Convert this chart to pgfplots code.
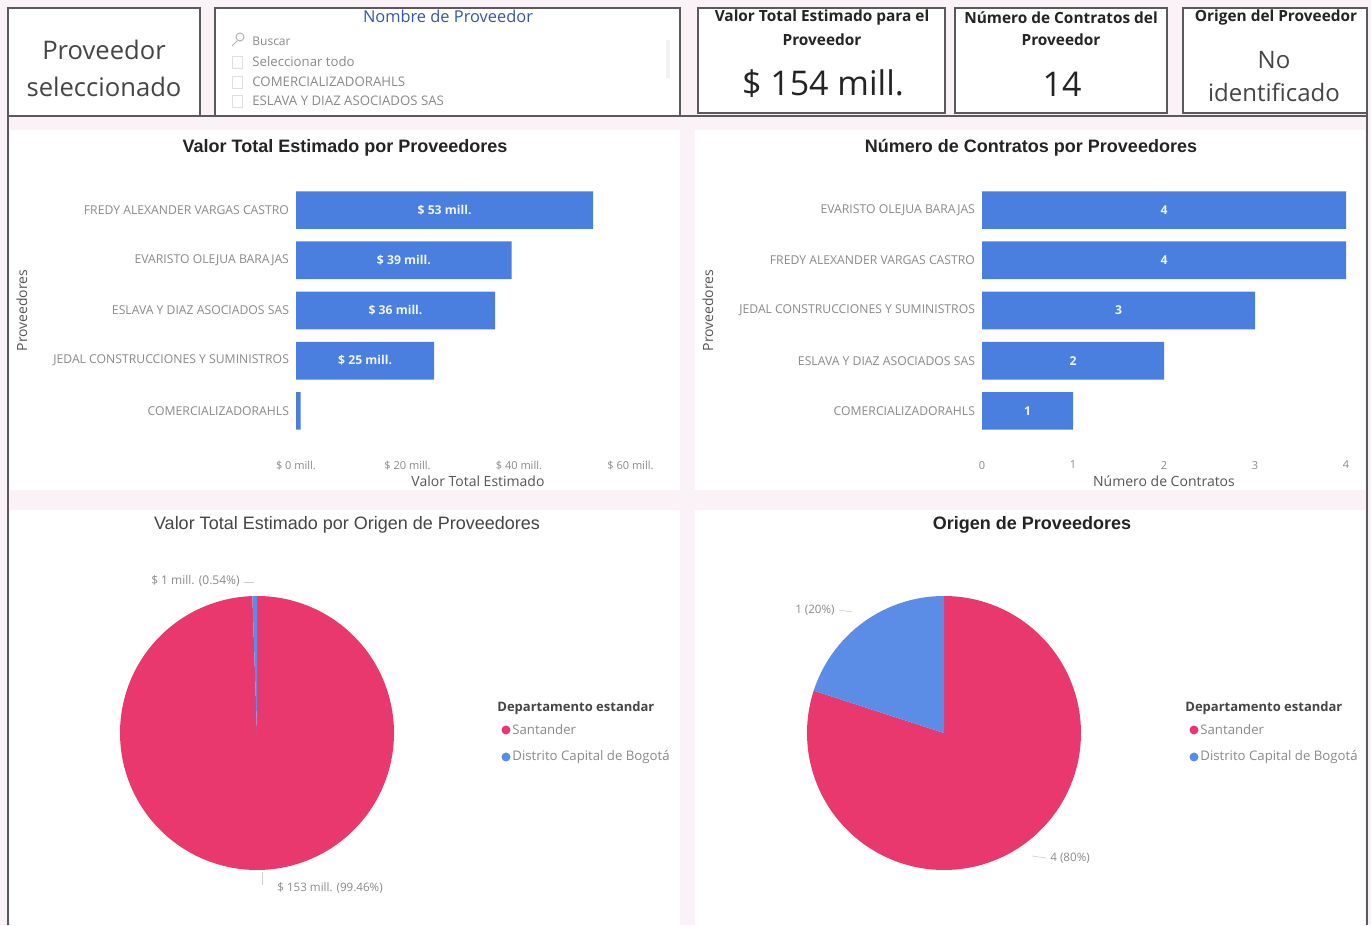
\documentclass[border=0pt]{standalone}
\usepackage{fontspec}
\setmainfont{Open Sans}
\newfontfamily\arial{Liberation Sans}
\usepackage{pgfplots}
\pgfplotsset{compat=1.18}
\usepgfplotslibrary{polar}
\definecolor{bg}{HTML}{FBF2F7}
\definecolor{barblue}{HTML}{4A7FE0}
\definecolor{piepink}{HTML}{E8386E}
\definecolor{pieblue}{HTML}{5B8DE6}
\definecolor{tickc}{HTML}{8A8A8A}
\definecolor{labc}{HTML}{555555}
\definecolor{dark}{HTML}{252423}
\definecolor{framec}{HTML}{5A5A5A}
\definecolor{slicerblue}{HTML}{3556A8}
\newcommand\fs[1]{\fontsize{#1pt}{#1pt}\selectfont}
\pgfplotsset{barstyle/.style={
  xbar, scale only axis, width=182pt, height=125.5pt,
  ymin=-0.5, ymax=4.5, y dir=reverse, ytick={0,1,2,3,4},
  axis line style={draw=none}, major tick length=0pt,
  bar width=0.75,
  tick label style={font=\fs{5.5}, text=tickc},
  yticklabel style={font=\fs{6.1}},
  xticklabel style={yshift=-9pt},
  label style={font=\fs{7}, text=labc},
  xlabel style={at={(axis description cs:0.5,-0.179)}, anchor=center},
  ylabel style={at={(axis description cs:-0.753,0.5)}, anchor=center},
  nodes near coords, point meta=explicit symbolic,
  visualization depends on={rawx \as \rawx},
  every node near coord/.append style={font=\bfseries\fs{6.1}, text=white!92!barblue, anchor=center, shift={(axis direction cs:-\rawx/2,0)}},
  clip=false,
}}
\begin{document}
\begin{tikzpicture}
\begin{scope}[shift={(0pt,462.5pt)}, x=0.5pt, y=-0.5pt]
% background
\fill[bg] (0,0) rectangle (1371,925);
\fill[white] (10,130) rectangle (680,490);
\fill[white] (695,130) rectangle (1365,490);
\fill[white] (10,510) rectangle (680,925);
\fill[white] (695,510) rectangle (1365,925);
% frame
\draw[framec, line width=0.8pt] (8,116) -- (1367,116);
\draw[framec, line width=0.8pt] (8,8) -- (8,925);
\draw[framec, line width=0.8pt] (1367,8) -- (1367,925);
% cards
\draw[framec, line width=0.7pt, fill=white] (8,8) rectangle (200,116);
\draw[framec, line width=0.7pt, fill=white] (215,8) rectangle (680,116);
\draw[framec, line width=0.7pt, fill=white] (698,8) rectangle (945,113);
\draw[framec, line width=0.7pt, fill=white] (955,8) rectangle (1167,113);
\draw[framec, line width=0.7pt, fill=white] (1183,8) rectangle (1367,113);
% card 1
\node[text=dark!85, font=\fs{12.8}] at (104,50) {Proveedor};
\node[text=dark!85, font=\fs{12.8}] at (104,87) {seleccionado};
% slicer
\node[text=slicerblue, font=\fs{8.2}] at (448,16) {Nombre de Proveedor};
\draw[gray!60, line width=0.5pt] (240,37) circle[radius=4] (237,41) -- (232,46);
\node[anchor=west, text=tickc, font=\fs{6}, inner sep=0pt] at (252,41) {Buscar};
\foreach \yy/\tt in {62/Seleccionar todo, 82/COMERCIALIZADORAHLS, 101/ESLAVA Y DIAZ ASOCIADOS SAS}{
  \draw[gray!25, line width=0.4pt] (232,\yy-6) rectangle (242,\yy+6);
  \node[anchor=west, text=tickc, font=\fs{6.6}, inner sep=0pt] at (252,\yy) {\tt};
}
\fill[gray!10] (666,40) rectangle (670,78);
% card 3
\node[text=dark, font=\bfseries\fs{7.7}] at (822,18) {Valor Total Estimado para el};
\node[text=dark, font=\bfseries\fs{7.7}] at (822,40) {Proveedor};
\node[text=dark, font=\fs{17}] at (823,84) {\$ 154 mill.};
% card 4
\node[text=dark, font=\bfseries\fs{7.7}] at (1061,18) {Número de Contratos del};
\node[text=dark, font=\bfseries\fs{7.7}] at (1061,40) {Proveedor};
\node[text=dark, font=\fs{17}] at (1062,84) {14};
% card 5
\node[text=dark, font=\bfseries\fs{7.7}] at (1276,18) {Origen del Proveedor};
\node[text=dark!85, font=\fs{12}] at (1274,60) {No};
\node[text=dark!85, font=\fs{12}] at (1274,92) {identificado};
% chart titles
\node[text=dark, font=\arial\bfseries\fs{9}] at (345,148) {Valor Total Estimado por Proveedores};
\node[text=dark, font=\arial\bfseries\fs{9}] at (1031,148) {Número de Contratos por Proveedores};
\node[text=dark!85, font=\arial\fs{9}] at (347,525) {Valor Total Estimado por Origen de Proveedores};
\node[text=dark, font=\arial\bfseries\fs{9}] at (1032,525) {Origen de Proveedores};
% pie labels
\node[anchor=east, text=tickc, font=\fs{6}, inner sep=0pt] at (240,581) {\$ 1 mill. (0.54\%)};
\draw[gray!40, line width=0.3pt] (244,582) -- (254,582);
\node[anchor=west, text=tickc, font=\fs{5.8}, inner sep=0pt] at (277,888) {\$ 153 mill. (99.46\%)};
\draw[gray!40, line width=0.3pt] (262,872) -- (262,885);
\node[anchor=east, text=tickc, font=\fs{5.8}, inner sep=0pt] at (835,610) {1 (20\%)};
\draw[gray!40, line width=0.3pt] (839,610) -- (852,612);
\node[anchor=west, text=tickc, font=\fs{5.8}, inner sep=0pt] at (1050,858) {4 (80\%)};
\draw[gray!40, line width=0.3pt] (1032,856) -- (1046,858);
% legends
\foreach \lx in {497,1185}{
  \node[anchor=west, text=dark!85, font=\bfseries\fs{6.5}, inner sep=0pt] at (\lx,708) {Departamento estandar};
  \fill[piepink] (\lx+9,730) circle[radius=4.5];
  \node[anchor=west, text=tickc, font=\fs{6.6}, inner sep=0pt] at (\lx+15,730) {Santander};
  \fill[pieblue] (\lx+9,757) circle[radius=4.5];
  \node[anchor=west, text=tickc, font=\fs{6.6}, inner sep=0pt] at (\lx+15,757) {Distrito Capital de Bogotá};
}
\end{scope}

% left bar chart
\begin{axis}[barstyle, at={(148pt,244.5pt)}, anchor=south west,
  xmin=0, xmax=65.3, xtick={0,20,40,60},
  xticklabels={\$ 0 mill., \$ 20 mill., \$ 40 mill., \$ 60 mill.},
  yticklabels={FREDY ALEXANDER VARGAS CASTRO, EVARISTO OLEJUA BARAJAS, ESLAVA Y DIAZ ASOCIADOS SAS, JEDAL CONSTRUCCIONES Y SUMINISTROS, COMERCIALIZADORAHLS},
  xlabel={Valor Total Estimado}, ylabel={Proveedores}]
\addplot[fill=barblue, draw=none] coordinates {
  (53.3,0) [\$ 53 mill.]
  (38.7,1) [\$ 39 mill.]
  (35.7,2) [\$ 36 mill.]
  (24.8,3) [\$ 25 mill.]
  (0.83,4) [{}]
};
\end{axis}

% right bar chart
\begin{axis}[barstyle, at={(491pt,244.5pt)}, anchor=south west,
  xmin=0, xmax=4, xtick={0,1,2,3,4}, xticklabels={0,1,2,3,4},
  yticklabels={EVARISTO OLEJUA BARAJAS, FREDY ALEXANDER VARGAS CASTRO, JEDAL CONSTRUCCIONES Y SUMINISTROS, ESLAVA Y DIAZ ASOCIADOS SAS, COMERCIALIZADORAHLS},
  xlabel={Número de Contratos}, ylabel={Proveedores}]
\addplot[fill=barblue, draw=none] coordinates {
  (4,0) [4]
  (4,1) [4]
  (3,2) [3]
  (2,3) [2]
  (1,4) [1]
};
\end{axis}

% left pie: Santander 153.17 (99.46%), Bogota 0.83 (0.54%)
\begin{polaraxis}[at={(128.5pt,96pt)}, anchor=center, scale only axis, width=137pt, height=137pt,
  hide axis, ymin=0, ymax=1, xmin=0, xmax=360, clip=false]
% wedges: constant radius 1 over the angular extent of each share
\addplot[draw=none, fill=piepink, domain=-268.056:90, samples=200] {1} -- (axis cs:0,0) -- cycle;
\addplot[draw=none, fill=pieblue, domain=90:91.944, samples=3] {1} -- (axis cs:0,0) -- cycle;
\end{polaraxis}

% right pie: Santander 4 (80%), Bogota 1 (20%)
\begin{polaraxis}[at={(472pt,96pt)}, anchor=center, scale only axis, width=137pt, height=137pt,
  hide axis, ymin=0, ymax=1, xmin=0, xmax=360, clip=false]
\addplot[draw=none, fill=piepink, domain=-198:90, samples=200] {1} -- (axis cs:0,0) -- cycle;
\addplot[draw=none, fill=pieblue, domain=90:162, samples=60] {1} -- (axis cs:0,0) -- cycle;
\end{polaraxis}
\end{tikzpicture}
\end{document}
